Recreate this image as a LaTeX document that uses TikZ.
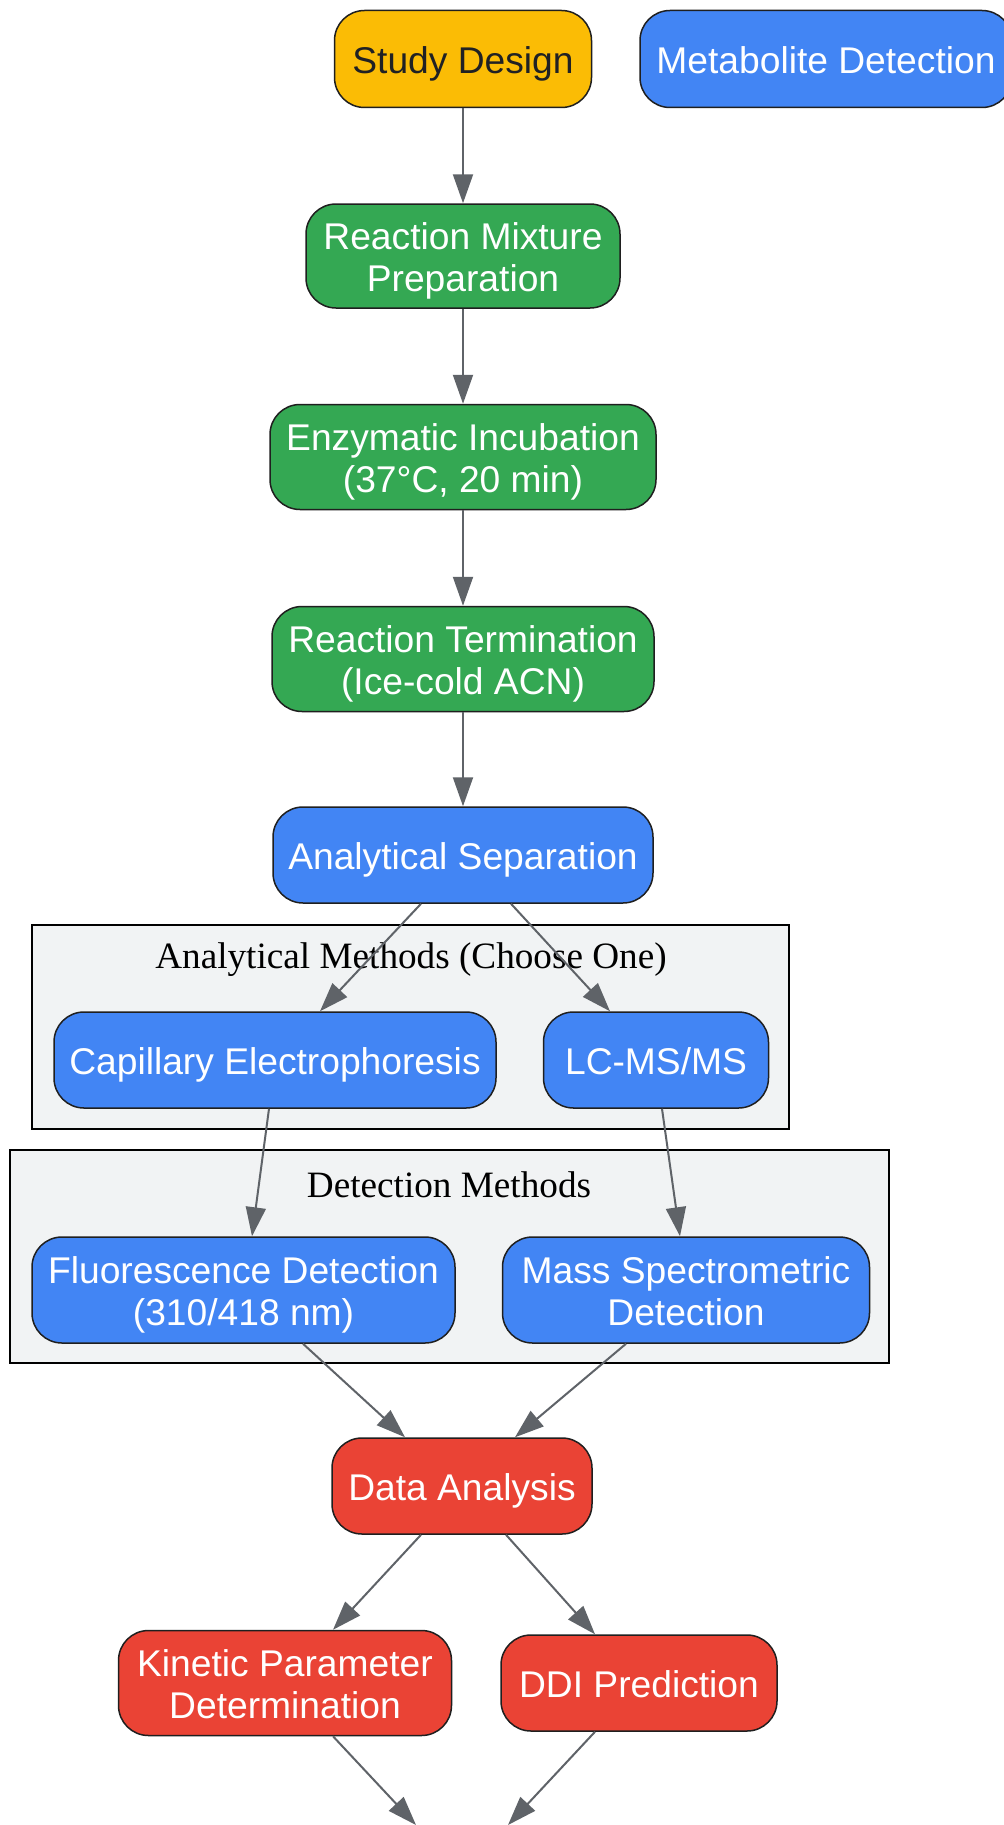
\documentclass[tikz,border=0pt]{standalone}
\usepackage{fontspec}
\setmainfont{Liberation Sans}
\newfontfamily\clusterfont{Liberation Serif}
\usepackage{xcolor}
\usepackage{tikz}
\usetikzlibrary{arrows.meta}
\definecolor{gyellow}{HTML}{FBBC05}
\definecolor{ggreen}{HTML}{34A853}
\definecolor{gblue}{HTML}{4285F4}
\definecolor{gred}{HTML}{EA4335}
\definecolor{clusterbg}{HTML}{F1F3F4}
\definecolor{edgegray}{HTML}{5F6368}
\definecolor{darktext}{HTML}{202124}
% struts so every box sets its lines alike
\newcommand{\boxtext}[1]{\rule{0pt}{18.5pt}#1\rule[-4pt]{0pt}{4pt}}
\tikzset{
	box/.style={
			draw=black!88, line width=0.75pt, rounded corners=15pt,
			align=center, inner sep=0pt, text=white,
			font=\fontsize{18.6}{21}\selectfont
		},
	planbox/.style={box, fill=gyellow, text=darktext},
	prepbox/.style={box, fill=ggreen},
	sepbox/.style={box, fill=gblue},
	evalbox/.style={box, fill=gred},
	cluster/.style={draw=black, fill=clusterbg, line width=0.75pt},
	clusterlabel/.style={font=\clusterfont\fontsize{18.6}{21}\selectfont},
	flow/.style={draw=edgegray, line width=1pt, -{Triangle[length=14.5pt,width=10pt]}}
}

\begin{document}
\begin{tikzpicture}[x=0.5pt,y=-0.5pt]
		\useasboundingbox (0,0) rectangle (1003,1825);
		\fill[white] (0,0) rectangle (1003,1825);
		\draw[cluster] (32,925) rectangle (789,1129);
		\node[clusterlabel] (lblanalyt) at (411,960) {Analytical Methods (Choose One)};
		\draw[cluster] (10,1150) rectangle (889,1363);
		\node[clusterlabel] (lbldetect) at (449,1185) {Detection Methods};

		\node[planbox, minimum width=128.5pt, minimum height=48.5pt] (design) at (463,59) {\boxtext{Study Design}};
		\node[sepbox, minimum width=186pt, minimum height=48.5pt] (metab) at (826,59) {\boxtext{Metabolite Detection}};
		\node[prepbox, minimum width=157pt, minimum height=52pt] (mix) at (463,256) {\boxtext{Reaction Mixture\\Preparation}};
		\node[prepbox, minimum width=193pt, minimum height=52.5pt] (incub) at (463,457) {\boxtext{Enzymatic Incubation\\(37°C, 20 min)}};
		\node[prepbox, minimum width=191pt, minimum height=52.5pt] (term) at (463,659) {\boxtext{Reaction Termination\\(Ice-cold ACN)}};
		\node[sepbox, minimum width=190pt, minimum height=48pt] (sep) at (463,855) {\boxtext{Analytical Separation}};
		\node[sepbox, minimum width=221pt, minimum height=48pt] (cap) at (275,1060) {\boxtext{Capillary Electrophoresis}};
		\node[sepbox, minimum width=112.5pt, minimum height=48pt] (lcms) at (656,1060) {\boxtext{LC-MS/MS}};
		\node[sepbox, minimum width=211.5pt, minimum height=53pt] (fluor) at (243.5,1290) {\boxtext{Fluorescence Detection\\(310/418 nm)}};
		\node[sepbox, minimum width=183.5pt, minimum height=53pt] (mass) at (686,1290) {\boxtext{Mass Spectrometric\\Detection}};
		\node[evalbox, minimum width=130pt, minimum height=48pt] (data) at (462,1486) {\boxtext{Data Analysis}};
		\node[evalbox, minimum width=166.5pt, minimum height=52.5pt] (kin) at (285,1683) {\boxtext{Kinetic Parameter\\Determination}};
		\node[evalbox, minimum width=138pt, minimum height=48pt] (ddi) at (639,1683) {\boxtext{DDI Prediction}};
		\coordinate (final) at (462,1825);

		\draw[flow] (design) -- (mix);
		\draw[flow] (mix) -- (incub);
		\draw[flow] (incub) -- (term);
		\draw[flow] (term) -- (sep);
		\draw[flow] ([xshift=-21pt]sep.south) -- ([xshift=22.5pt]cap.north);
		\draw[flow] ([xshift=24pt]sep.south) -- ([xshift=-23pt]lcms.north);
		\draw[flow] ([xshift=-3pt]cap.south) -- ([xshift=4.25pt]fluor.north);
		\draw[flow] ([xshift=3pt]lcms.south) -- ([xshift=-3pt]mass.north);
		\draw[flow] ([xshift=29.75pt]fluor.south) -- ([xshift=-28.5pt]data.north);
		\draw[flow] ([xshift=-30pt]mass.south) -- ([xshift=26.5pt]data.north);
		\draw[flow] ([xshift=-20.5pt]data.south) -- ([xshift=24pt]kin.north);
		\draw[flow] ([xshift=22pt]data.south) -- ([xshift=-22pt]ddi.north);
		\draw[flow] ([xshift=24pt]kin.south) -- ([xshift=-23pt]final);
		\draw[flow] ([xshift=-22pt]ddi.south) -- ([xshift=23pt]final);
	\end{tikzpicture}
\end{document}
